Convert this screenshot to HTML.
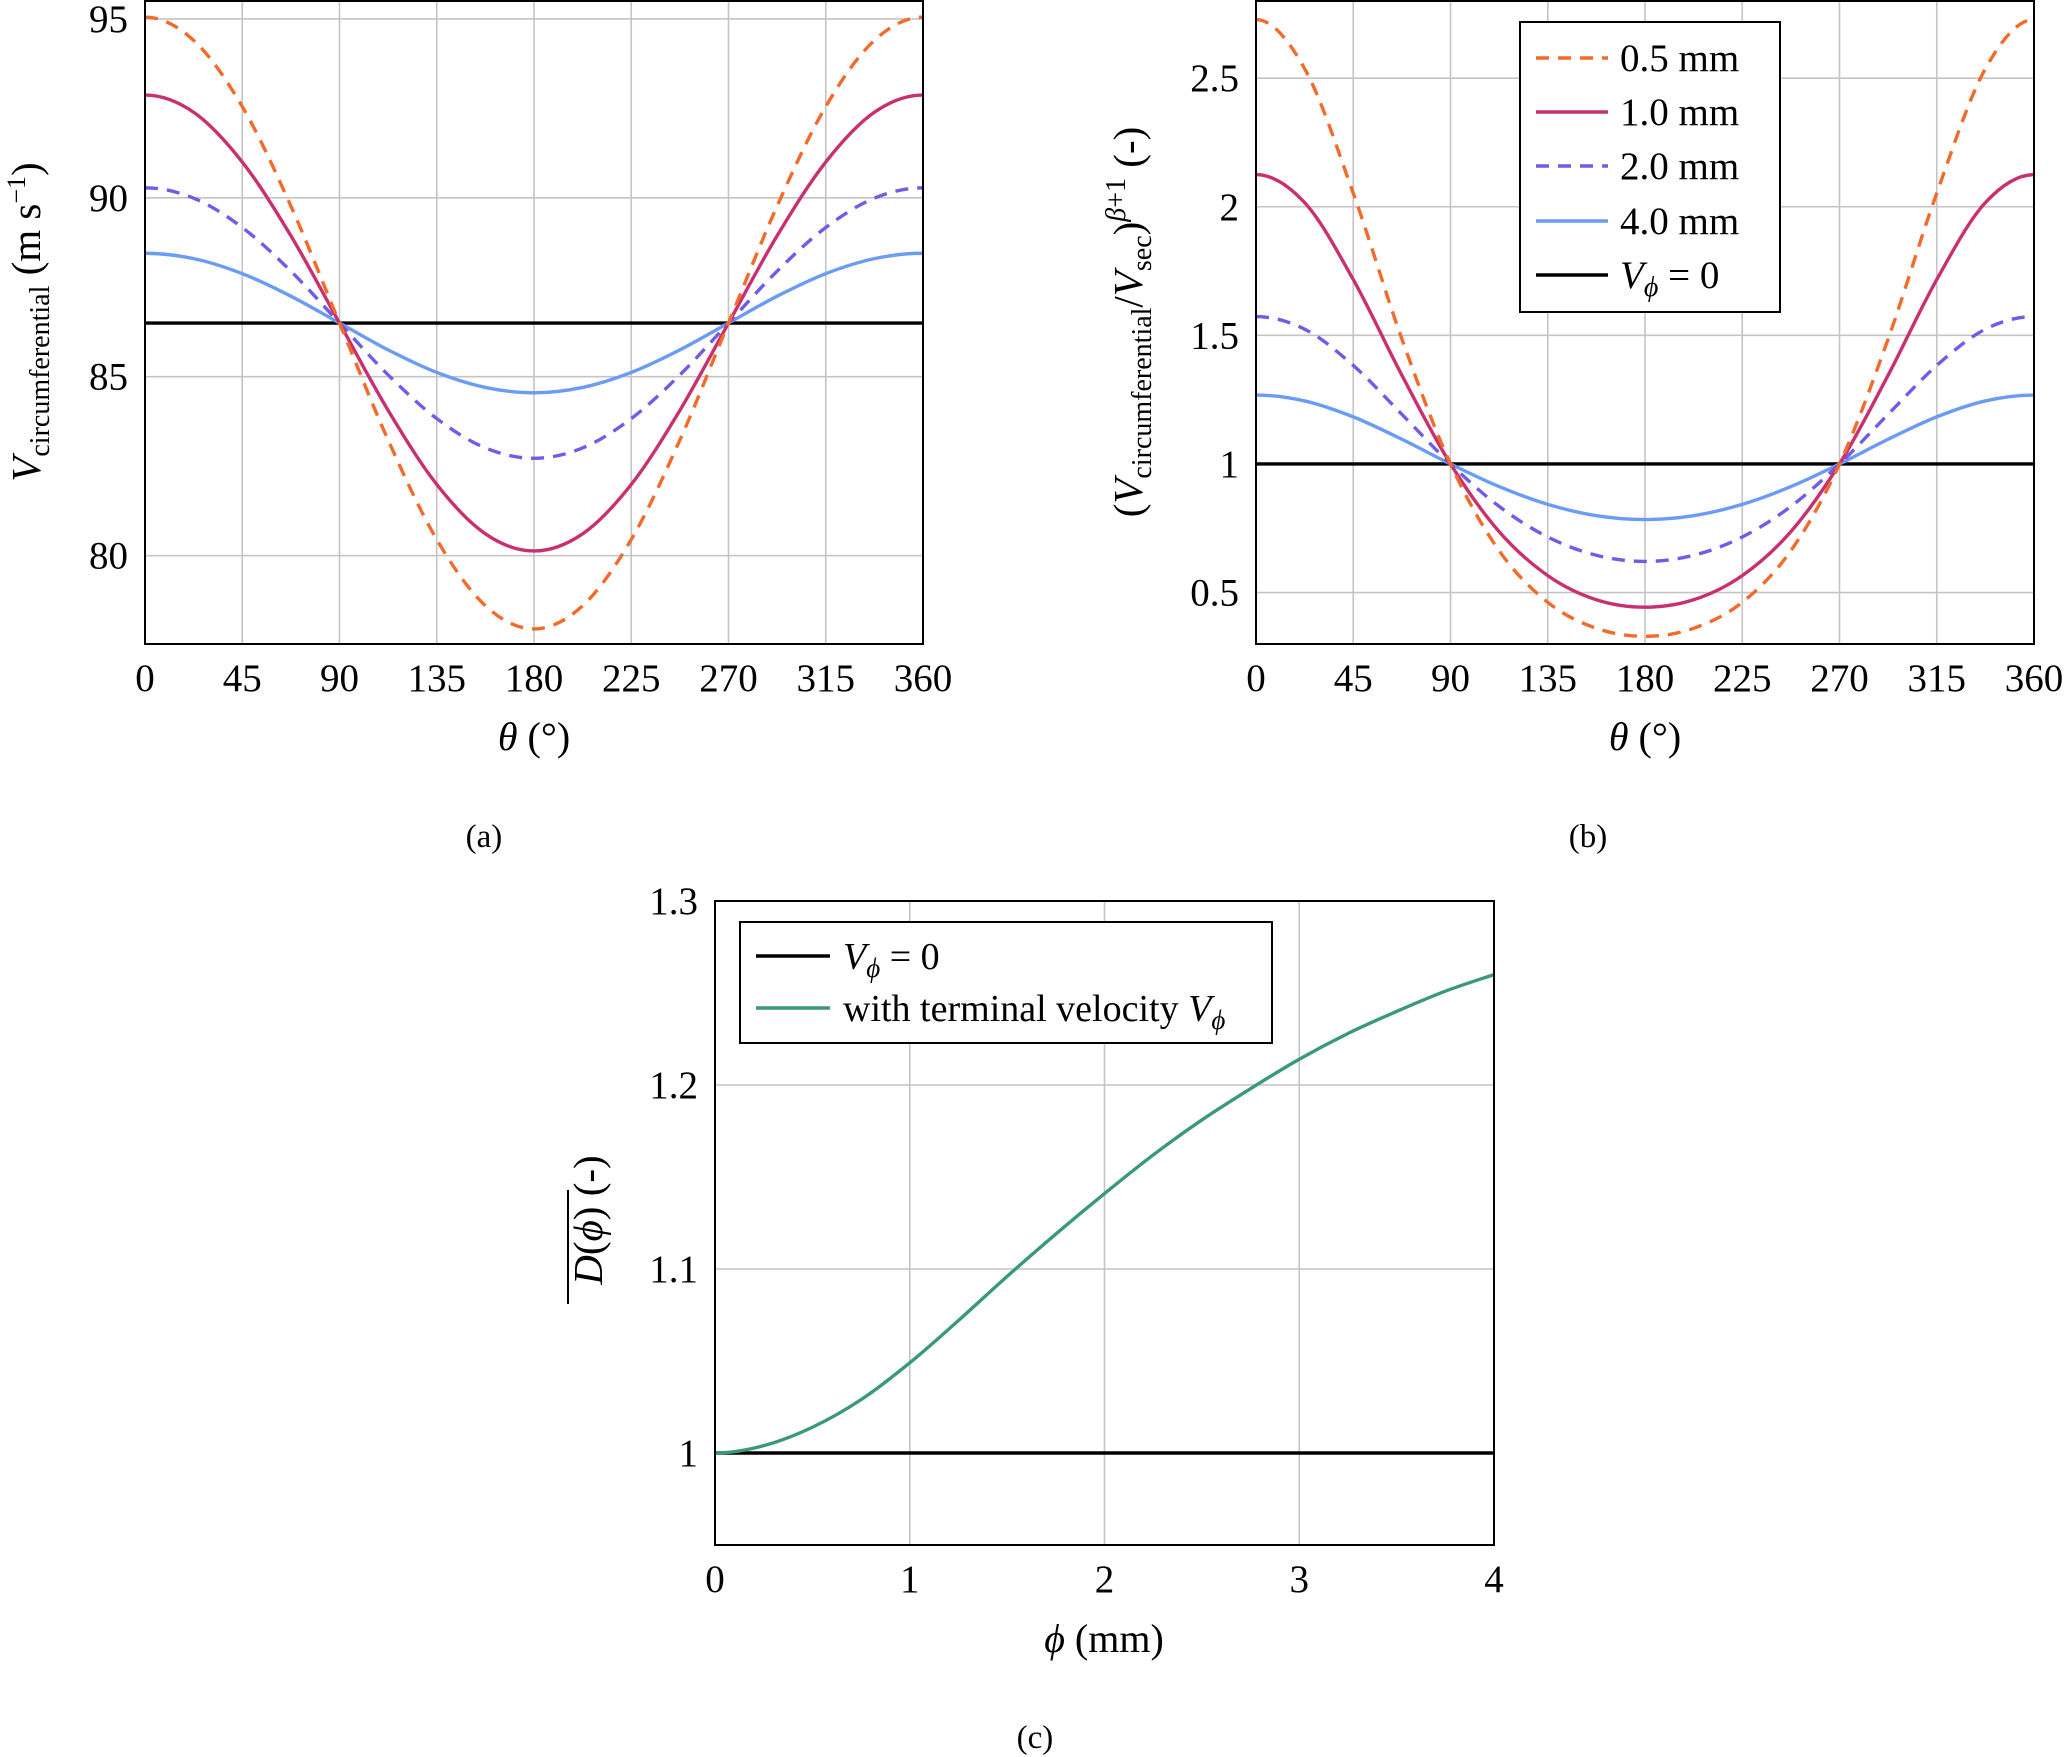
<!DOCTYPE html>
<html><head><meta charset="utf-8">
<style>
html,body{margin:0;padding:0;background:#fff;}
svg{display:block;font-family:"Liberation Serif",serif;}
</style></head>
<body>
<svg id="fig" width="2067" height="1757" viewBox="0 0 2067 1757" xmlns="http://www.w3.org/2000/svg"></svg>
<script>
// ---------- data ----------
const thetaDeg = [0,22.5,45,67.5,90,112.5,135,157.5,180,202.5,225,247.5,270,292.5,315,337.5,360];
const aS05 = [95.05,94.40,92.55,89.77,86.5,83.23,80.45,78.60,77.95,78.60,80.45,83.23,86.5,89.77,92.55,94.40,95.05];
const aS10 = [92.87,92.39,91.00,88.94,86.5,84.06,81.99,80.61,80.13,80.61,81.99,84.06,86.5,88.94,91.00,92.39,92.87];
const aS20 = [90.28,89.99,89.17,87.95,86.5,85.05,83.83,83.01,82.72,83.01,83.83,85.05,86.5,87.95,89.17,89.99,90.28];
const aS40 = [88.45,88.30,87.88,87.25,86.5,85.75,85.12,84.70,84.55,84.70,85.12,85.75,86.5,87.25,87.88,88.30,88.45];
const aS00 = [86.5,86.5];
const bS05 = [2.728,2.537,2.053,1.486,1,0.663,0.462,0.361,0.330,0.361,0.462,0.663,1,1.486,2.053,2.537,2.728];
const bS10 = [2.125,2.016,1.717,1.345,1,0.737,0.566,0.472,0.443,0.472,0.566,0.737,1,1.345,1.717,2.016,2.125];
const bS20 = [1.573,1.524,1.383,1.193,1,0.835,0.716,0.645,0.621,0.645,0.716,0.835,1,1.193,1.383,1.524,1.573];
const bS40 = [1.268,1.245,1.183,1.096,1,0.912,0.843,0.799,0.784,0.799,0.843,0.912,1,1.096,1.183,1.245,1.268];
const bS00 = [1,1];
const xTicksTheta = [0,45,90,135,180,225,270,315,360];
const aYTicks = [80,85,90,95];
const bYTicks = [0.5,1,1.5,2,2.5];
const bYTickLabels = ["0.5","1","1.5","2","2.5"];
const cX = [0,0.25,0.5,0.75,1,1.25,1.5,1.75,2,2.25,2.5,2.75,3,3.25,3.5,3.75,4];
const cGreen = [1.0,1.004,1.014,1.029,1.049,1.072,1.096,1.119,1.141,1.162,1.181,1.198,1.214,1.228,1.240,1.251,1.260];
const cBlack = [1,1];
const cXTicks = [0,1,2,3,4];
const cYTicks = [1,1.1,1.2,1.3];
const cYTickLabels = ["1","1.1","1.2","1.3"];

const NS="http://www.w3.org/2000/svg";
const svg=document.getElementById('fig');
function el(tag,attrs,parent){const e=document.createElementNS(NS,tag);for(const k in attrs)e.setAttribute(k,attrs[k]);(parent||svg).appendChild(e);return e;}
function smoothPath(px,flatStart,flatEnd){
  const n=px.length;
  const pt=i=>{
    if(i<0){return flatStart?[2*px[0][0]-px[1][0],px[1][1]]:px[0];}
    if(i>n-1){return flatEnd?[2*px[n-1][0]-px[n-2][0],px[n-2][1]]:px[n-1];}
    return px[i];};
  let d=`M${px[0][0]},${px[0][1]}`;
  for(let i=0;i<n-1;i++){const p0=pt(i-1),p1=pt(i),p2=pt(i+1),p3=pt(i+2);
    const c1=[p1[0]+(p2[0]-p0[0])/6,p1[1]+(p2[1]-p0[1])/6];
    const c2=[p2[0]-(p3[0]-p1[0])/6,p2[1]-(p3[1]-p1[1])/6];
    d+=` C${c1[0]},${c1[1]} ${c2[0]},${c2[1]} ${p2[0]},${p2[1]}`;}
  return d;}

const COL={o:'#f26b2a',m:'#c8306f',p:'#6e5de8',b:'#6a9bf5',k:'#000',g:'#3a9a73'};

function panel(cfg){
  const g=el('g',{});
  
  
  const X=v=>cfg.L+(v-cfg.x0)/(cfg.x1-cfg.x0)*(cfg.R-cfg.L);
  const Y=v=>cfg.B-(v-cfg.y0)/(cfg.y1-cfg.y0)*(cfg.B-cfg.T);
  cfg.xt.forEach(t=>{const l=el('line',{x1:X(t),x2:X(t),y1:cfg.T,y2:cfg.B,stroke:'#c4c4c4','stroke-width':1.6},g);
    const tx=el('text',{x:X(t),y:cfg.B+47,'font-size':39,'text-anchor':'middle'},g);tx.textContent=t;});
  cfg.yt.forEach((t,i)=>{const l=el('line',{x1:cfg.L,x2:cfg.R,y1:Y(t),y2:Y(t),stroke:'#c4c4c4','stroke-width':1.6},g);
    const tx=el('text',{x:cfg.L-17,y:Y(t)+13,'font-size':39,'text-anchor':'end'},g);tx.textContent=cfg.ytl?cfg.ytl[i]:t;});
  cfg.series.forEach(s=>{const xs=s.x,ys=s.y;const px=xs.map((x,i)=>[X(x),Y(ys[i])]);
    const p=el('path',{d:smoothPath(px,s.fs,s.fe),fill:'none',stroke:s.c,'stroke-width':s.w||3.4},g);
    if(s.dash)p.setAttribute('stroke-dasharray','13 9');
    });
  const fr=el('rect',{x:cfg.L,y:cfg.T,width:cfg.R-cfg.L,height:cfg.B-cfg.T,fill:'none',stroke:'#000','stroke-width':2},g);
  
  return g;
}

const thetaEnds=[0,360];
panel({name:'panel-a',L:145,R:923,T:1,B:644,x0:0,x1:360,y0:77.53,y1:95.5,xt:xTicksTheta,yt:aYTicks,
 series:[{x:thetaEnds,y:aS00,c:COL.k,n:'line-a-v0'},{x:thetaDeg,y:aS40,c:COL.b,n:'line-a-4mm',fs:1,fe:1},{x:thetaDeg,y:aS20,c:COL.p,dash:1,n:'line-a-2mm',fs:1,fe:1},{x:thetaDeg,y:aS10,c:COL.m,n:'line-a-1mm',fs:1,fe:1},{x:thetaDeg,y:aS05,c:COL.o,dash:1,n:'line-a-05mm',fs:1,fe:1}]});
panel({name:'panel-b',L:1256,R:2034,T:1,B:644,x0:0,x1:360,y0:0.30,y1:2.80,xt:xTicksTheta,yt:bYTicks,ytl:bYTickLabels,
 series:[{x:thetaEnds,y:bS00,c:COL.k,n:'line-b-v0'},{x:thetaDeg,y:bS40,c:COL.b,n:'line-b-4mm',fs:1,fe:1},{x:thetaDeg,y:bS20,c:COL.p,dash:1,n:'line-b-2mm',fs:1,fe:1},{x:thetaDeg,y:bS10,c:COL.m,n:'line-b-1mm',fs:1,fe:1},{x:thetaDeg,y:bS05,c:COL.o,dash:1,n:'line-b-05mm',fs:1,fe:1}]});
panel({name:'panel-c',L:715,R:1494,T:901,B:1545,x0:0,x1:4,y0:0.95,y1:1.3,xt:cXTicks,yt:cYTicks,ytl:cYTickLabels,
 series:[{x:[0,4],y:cBlack,c:COL.k,n:'line-c-v0'},{x:cX,y:cGreen,c:COL.g,n:'line-c-terminal',fs:1}]});
</script>
<svg style="position:absolute;left:0;top:0" width="2067" height="1757" xmlns="http://www.w3.org/2000/svg" font-family="Liberation Serif, serif">
  <text x="534" y="750" font-size="40" text-anchor="middle"><tspan font-style="italic">θ</tspan> (°)</text>
  <text x="1645" y="750" font-size="40" text-anchor="middle"><tspan font-style="italic">θ</tspan> (°)</text>
  <text x="1104" y="1652" font-size="40" text-anchor="middle"><tspan font-style="italic">ϕ</tspan> (mm)</text>
  <text transform="translate(40,322) rotate(-90)" font-size="41" text-anchor="middle"><tspan font-style="italic">V</tspan><tspan font-size="28" dy="9">circumferential</tspan><tspan dy="-9"> (m s</tspan><tspan font-size="26" dy="-15">−1</tspan><tspan dy="15">)</tspan></text>
  <text transform="translate(1142,322) rotate(-90)" font-size="41" text-anchor="middle">(<tspan font-style="italic">V</tspan><tspan font-size="28" dy="9">circumferential</tspan><tspan dy="-9">/</tspan><tspan font-style="italic">V</tspan><tspan font-size="28" dy="9">sec</tspan><tspan dy="-9">)</tspan><tspan font-size="28" dy="-17"><tspan font-style="italic">β</tspan>+1</tspan><tspan dy="17"> (-)</tspan></text>
  <g transform="translate(602,1220) rotate(-90)">
    <text x="0" y="0" font-size="41" text-anchor="middle"><tspan font-style="italic">D</tspan>(<tspan font-style="italic">ϕ</tspan>) (-)</text>
    <line x1="-84" x2="30" y1="-34" y2="-34" stroke="#000" stroke-width="2"/>
  </g>
  <text x="484" y="847" font-size="33" text-anchor="middle">(a)</text>
  <text x="1588" y="847" font-size="33" text-anchor="middle">(b)</text>
  <text x="1035" y="1748" font-size="33" text-anchor="middle">(c)</text>
  <g>
    <rect x="1520" y="22" width="260" height="290" fill="#fff" stroke="#000" stroke-width="2"/>
    <g><line x1="1536" x2="1608" y1="58" y2="58" stroke="#f26b2a" stroke-width="3.4" stroke-dasharray="13 9"/><text x="1620" y="71" font-size="39">0.5 mm</text></g>
    <g><line x1="1536" x2="1608" y1="112" y2="112" stroke="#c8306f" stroke-width="3.4"/><text x="1620" y="125" font-size="39">1.0 mm</text></g>
    <g><line x1="1536" x2="1608" y1="166" y2="166" stroke="#6e5de8" stroke-width="3.4" stroke-dasharray="13 9"/><text x="1620" y="179" font-size="39">2.0 mm</text></g>
    <g><line x1="1536" x2="1608" y1="221" y2="221" stroke="#6a9bf5" stroke-width="3.4"/><text x="1620" y="234" font-size="39">4.0 mm</text></g>
    <g><line x1="1536" x2="1608" y1="275" y2="275" stroke="#000" stroke-width="3.4"/><text x="1620" y="288" font-size="39"><tspan font-style="italic">V</tspan><tspan font-style="italic" font-size="28" dy="8">ϕ</tspan><tspan dy="-8"> = 0</tspan></text></g>
  </g>
  <g>
    <rect x="740" y="922" width="532" height="121" fill="#fff" stroke="#000" stroke-width="2"/>
    <g><line x1="756" x2="830" y1="956" y2="956" stroke="#000" stroke-width="3.4"/><text x="843" y="969" font-size="38"><tspan font-style="italic">V</tspan><tspan font-style="italic" font-size="27" dy="8">ϕ</tspan><tspan dy="-8"> = 0</tspan></text></g>
    <g><line x1="756" x2="830" y1="1008" y2="1008" stroke="#3a9a73" stroke-width="3.4"/><text x="843" y="1021" font-size="38">with terminal velocity <tspan font-style="italic">V</tspan><tspan font-style="italic" font-size="27" dy="8">ϕ</tspan></text></g>
  </g>
</svg>
</body></html>
